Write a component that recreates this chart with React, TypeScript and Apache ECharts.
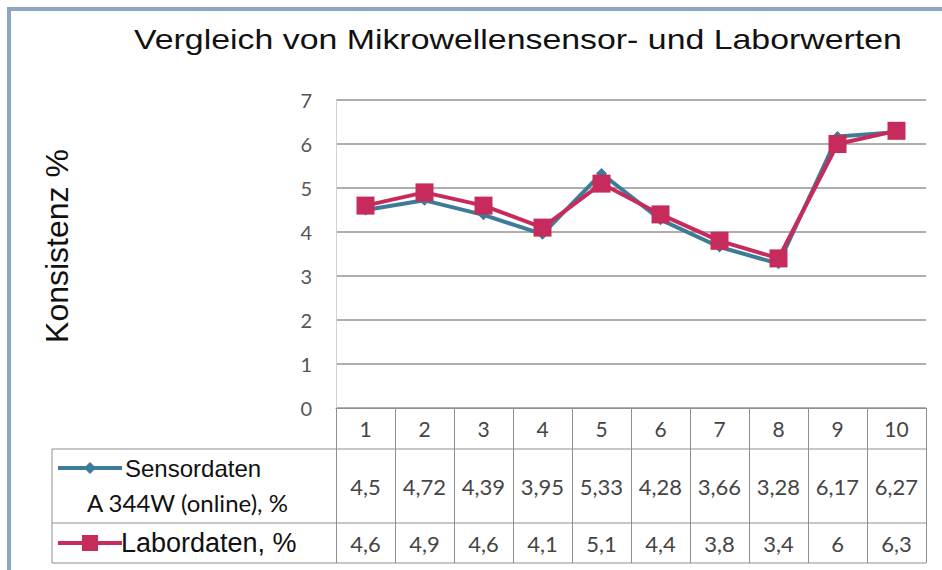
import React, { useEffect, useRef } from "react";
import * as echarts from "echarts";

const categories = ["1", "2", "3", "4", "5", "6", "7", "8", "9", "10"];
const sensorValues = [4.5, 4.72, 4.39, 3.95, 5.33, 4.28, 3.66, 3.28, 6.17, 6.27];
const laborValues = [4.6, 4.9, 4.6, 4.1, 5.1, 4.4, 3.8, 3.4, 6, 6.3];
const yTicks = [0, 1, 2, 3, 4, 5, 6, 7];

const titleText = "Vergleich von Mikrowellensensor- und Laborwerten";
const yAxisName = "Konsistenz %";
const sensorName = "Sensordaten";
const sensorSub = "A 344W (online), %";
const laborName = "Labordaten, %";

const SENSOR_COLOR = "#3d7c98";
const LABOR_COLOR = "#c62b5b";
const GRID_COLOR = "#939393";
const TABLE_COLOR = "#8f8f8f";

const fmt = (v: number) => String(v).replace(".", ",");

export default function App() {
  const ref = useRef<HTMLDivElement>(null);

  useEffect(() => {
    if (!ref.current) return;
    const chart = echarts.init(ref.current, null, { renderer: "svg" });

    const gridLeft = 336;
    const gridRight = 926;
    const tableLeft = 52;
    const row1 = 449;
    const row2 = 523;
    const row3 = 563;

    chart.setOption({
      animation: false,
      backgroundColor: "#ffffff",
      grid: { left: gridLeft, right: 942 - gridRight, top: 100, bottom: 570 - 408 },
      xAxis: {
        type: "category",
        data: categories,
        boundaryGap: true,
        axisLine: { show: true, lineStyle: { color: TABLE_COLOR, width: 1 } },
        axisTick: {
          show: true,
          alignWithLabel: false,
          interval: 0,
          length: row3 - 408,
          lineStyle: { color: TABLE_COLOR, width: 1 },
        },
        axisLabel: {
          interval: 0,
          margin: 0,
          formatter: (value: string, idx: number) =>
            `{h|${value}}\n{s|${fmt(sensorValues[idx])}}\n{l|${fmt(laborValues[idx])}}`,
          rich: {
            h: { fontSize: 21, lineHeight: 41, color: "#454545", fontFamily: "Lato" },
            s: { fontSize: 22, lineHeight: 74, color: "#454545", fontFamily: "Lato" },
            l: { fontSize: 22, lineHeight: 40, color: "#454545", fontFamily: "Lato" },
          },
        },
        splitLine: { show: false },
      },
      yAxis: {
        type: "value",
        min: yTicks[0],
        max: yTicks[yTicks.length - 1],
        interval: 1,
        axisLine: { show: true, lineStyle: { color: "#d0d0d0", width: 1 } },
        axisTick: { show: false },
        axisLabel: {
          margin: 24,
          fontSize: 20,
          color: "#555555",
          fontFamily: "Lato",
        },
        splitLine: { show: true, lineStyle: { color: GRID_COLOR, width: 1.5 } },
      },
      series: [
        {
          name: sensorName,
          type: "line",
          data: sensorValues,
          z: 2,
          symbol: "diamond",
          symbolSize: 11,
          lineStyle: { color: SENSOR_COLOR, width: 4 },
          itemStyle: { color: SENSOR_COLOR },
        },
        {
          name: laborName,
          type: "line",
          data: laborValues,
          z: 3,
          symbol: "rect",
          symbolSize: 18,
          lineStyle: { color: LABOR_COLOR, width: 4 },
          itemStyle: { color: LABOR_COLOR },
        },
      ],
      graphic: [
        { type: "rect", shape: { x: 7, y: 7, width: 935, height: 4 }, style: { fill: "#8fa6c1" } },
        { type: "rect", shape: { x: 7, y: 7, width: 4, height: 563 }, style: { fill: "#8fa6c1" } },
        {
          type: "text",
          x: 134,
          y: 40,
          scaleX: 1.21,
          style: {
            text: titleText,
            fontSize: 28,
            fontFamily: "Liberation Sans",
            fill: "#111111",
            align: "left",
            verticalAlign: "middle",
          },
        },
        {
          type: "text",
          x: 57,
          y: 246,
          rotation: Math.PI / 2,
          style: {
            text: yAxisName,
            fontSize: 32,
            fontFamily: "Liberation Sans",
            fill: "#111111",
            align: "center",
            verticalAlign: "middle",
          },
        },
        // table horizontal lines
        { type: "line", shape: { x1: tableLeft, y1: row1, x2: gridRight, y2: row1 }, style: { stroke: TABLE_COLOR, lineWidth: 1 } },
        { type: "line", shape: { x1: tableLeft, y1: row2, x2: gridRight, y2: row2 }, style: { stroke: TABLE_COLOR, lineWidth: 1 } },
        { type: "line", shape: { x1: tableLeft, y1: row3, x2: gridRight, y2: row3 }, style: { stroke: TABLE_COLOR, lineWidth: 1 } },
        { type: "line", shape: { x1: tableLeft, y1: row1, x2: tableLeft, y2: row3 }, style: { stroke: TABLE_COLOR, lineWidth: 1 } },
        // legend keys
        { type: "line", shape: { x1: 58, y1: 468, x2: 122, y2: 468 }, style: { stroke: SENSOR_COLOR, lineWidth: 4 } },
        { type: "polygon", shape: { points: [[90, 462], [96, 468], [90, 474], [84, 468]] }, style: { fill: SENSOR_COLOR } },
        { type: "line", shape: { x1: 58, y1: 543, x2: 122, y2: 543 }, style: { stroke: LABOR_COLOR, lineWidth: 4 } },
        { type: "rect", shape: { x: 82, y: 535, width: 16, height: 16 }, style: { fill: LABOR_COLOR } },
        {
          type: "text",
          x: 125,
          y: 468,
          style: { text: sensorName, fontSize: 24, fontFamily: "Liberation Sans", fill: "#111111", align: "left", verticalAlign: "middle" },
        },
        {
          type: "text",
          x: 87,
          y: 502,
          style: { text: sensorSub, fontSize: 24, fontFamily: "Lato", fill: "#111111", align: "left", verticalAlign: "middle" },
        },
        {
          type: "text",
          x: 121,
          y: 543,
          style: { text: laborName, fontSize: 27, fontFamily: "Liberation Sans", fill: "#111111", align: "left", verticalAlign: "middle" },
        },
      ],
    });

    return () => chart.dispose();
  }, []);

  return (
    <div
      ref={ref}
      style={{ position: "fixed", left: 0, top: 0, width: 942, height: 570, background: "#fff" }}
    />
  );
}
